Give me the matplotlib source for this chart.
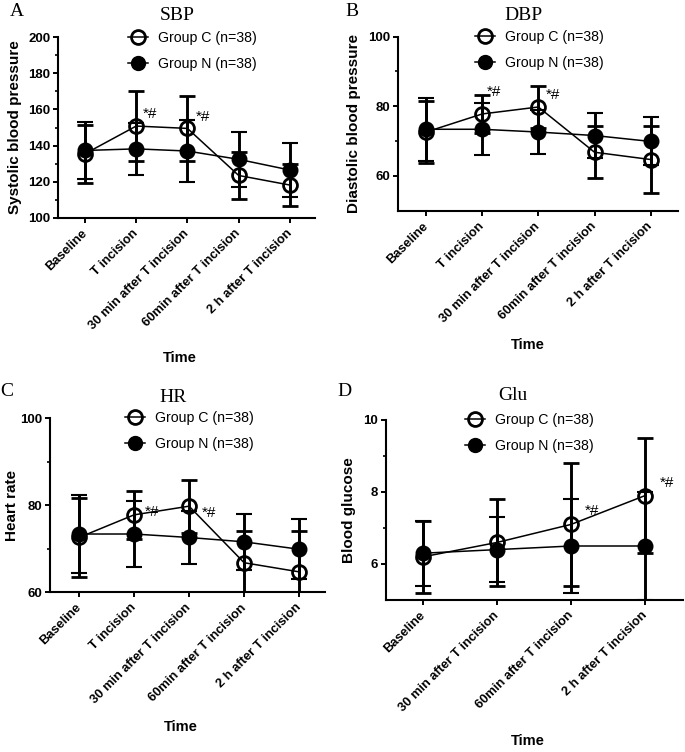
import numpy as np
import matplotlib
matplotlib.use("Agg")
import matplotlib.pyplot as plt
from matplotlib.lines import Line2D

# ---------------- data ----------------
cats5 = ["Baseline", "T incision", "30 min after T incision",
         "60min after T incision", "2 h after T incision"]
cats4 = ["Baseline", "30 min after T incision",
         "60min after T incision", "2 h after T incision"]

sbp_c_mean = [135.5, 150.8, 149.5, 123.5, 118.2]
sbp_c_sd = [16.0, 19.5, 18.0, 13.2, 11.6]
sbp_n_mean = [137.3, 138.2, 137.0, 132.4, 126.5]
sbp_n_sd = [16.0, 14.5, 17.0, 15.3, 14.8]

dbp_c_mean = [72.6, 77.8, 79.8, 66.8, 64.7]
dbp_c_sd = [9.0, 5.5, 6.1, 7.4, 9.5]
dbp_n_mean = [73.4, 73.4, 72.6, 71.6, 69.9]
dbp_n_sd = [9.0, 7.5, 6.2, 6.4, 6.9]

hr_c_mean = [72.6, 77.8, 79.8, 66.8, 64.7]
hr_c_sd = [9.0, 5.5, 6.1, 7.4, 9.5]
hr_n_mean = [73.4, 73.4, 72.6, 71.6, 69.9]
hr_n_sd = [9.0, 7.5, 6.2, 6.4, 6.9]

glu_c_mean = [6.2, 6.6, 7.1, 7.9]
glu_c_sd = [1.0, 1.2, 1.7, 1.6]
glu_n_mean = [6.3, 6.4, 6.5, 6.5]
glu_n_sd = [0.9, 0.9, 1.3, 1.5]

label_c = "Group C (n=38)"
label_n = "Group N (n=38)"
sig_text = "*#"

# ---------------- figure ----------------
W, H = 685, 752
fig = plt.figure(figsize=(W / 100, H / 100), dpi=100)
SANS = "Liberation Sans"
SERIF = "Liberation Serif"
PT = 0.72  # points per pixel at 100 dpi


def add_ax(l, r, t, b):
    return fig.add_axes([l / W, 1 - b / H, (r - l) / W, (b - t) / H])


def fx(px):
    return px / W


def fy(py):
    return 1 - py / H


def panel(ax, cats, c_mean, c_sd, n_mean, n_sd, ylim, major, minor, xlim,
          ylabel, ylab_x, xlab_xy, leg_xy, sig_idx, sig_off):
    x = np.arange(len(cats))
    common = dict(color="black", ms=10, lw=1.1, elinewidth=2.1,
                  capsize=5.5, capthick=2.1, clip_on=True)
    ax.errorbar(x, n_mean, yerr=n_sd, fmt="-o", mfc="black", mec="black",
                mew=1.5, zorder=3, **common)
    ax.errorbar(x, c_mean, yerr=c_sd, fmt="-o", mfc="none", mec="black",
                mew=2.0, zorder=4, **common)
    ax.set_ylim(*ylim)
    ax.set_xlim(*xlim)
    ax.set_yticks(major)
    ax.set_yticks(minor, minor=True)
    ax.set_xticks(x)
    ax.set_xticklabels(cats, rotation=45, ha="right", va="center",
                       rotation_mode="anchor", fontsize=9.3, fontweight="bold",
                       family=SANS)
    for lab in ax.get_yticklabels():
        lab.set_fontsize(9.5)
        lab.set_fontweight("bold")
        lab.set_family(SANS)
    for s in ["top", "right"]:
        ax.spines[s].set_visible(False)
    for s in ["left", "bottom"]:
        ax.spines[s].set_linewidth(1.5)
    ax.tick_params(axis="y", which="major", length=3.5, width=1.4, pad=2)
    ax.tick_params(axis="y", which="minor", length=2.2, width=1.2)
    ax.tick_params(axis="x", which="major", length=3.8, width=1.4, pad=6)
    ax.set_ylabel(ylabel, fontsize=11, fontweight="bold", family=SANS,
                  va="center")
    ax.yaxis.set_label_coords(ylab_x, 0.5)
    ax.set_xlabel("Time", fontsize=10.5, fontweight="bold", family=SANS,
                  va="center")
    ax.xaxis.set_label_coords(*xlab_xy)
    # legend
    h_c = Line2D([], [], color="black", lw=1.1, marker="o", ms=10,
                 mfc="none", mec="black", mew=2.0)
    h_n = Line2D([], [], color="black", lw=1.1, marker="o", ms=10,
                 mfc="black", mec="black")
    fig.legend([h_c, h_n], [label_c, label_n], loc="upper left",
               bbox_to_anchor=(fx(leg_xy[0]), fy(leg_xy[1])),
               bbox_transform=fig.transFigure, frameon=False,
               prop={"family": SANS, "size": 10.2}, handlelength=1.4,
               handletextpad=0.75, labelspacing=0.85, borderpad=0,
               borderaxespad=0)
    for i, (dx, dy) in zip(sig_idx, sig_off):
        ax.annotate(sig_text, xy=(i, c_mean[i]), xytext=(dx * PT, dy * PT),
                    textcoords="offset points", ha="left", va="center",
                    fontsize=11, family=SANS)


# Panel A
axA = add_ax(58, 315, 37, 218)
panel(axA, cats5, sbp_c_mean, sbp_c_sd, sbp_n_mean, sbp_n_sd,
      (100, 200), [100, 120, 140, 160, 180, 200], [110, 130, 150, 170, 190],
      (-0.527, 4.49), "Systolic blood pressure", -(58 - 15) / 257,
      (0.475, -(358 - 218) / 181), (128, 31), [1, 2], [(7, 12), (8, 11)])

# Panel B
axB = add_ax(398, 678, 36.7, 210.7)
panel(axB, cats5, dbp_c_mean, dbp_c_sd, dbp_n_mean, dbp_n_sd,
      (50, 100), [60, 80, 100], [70, 90],
      (-0.498, 4.486), "Diastolic blood pressure", -(398 - 354) / 280,
      (0.464, -(345 - 210.7) / 174), (475, 30), [1, 2], [(5, 21.6), (7, 12)])

# Panel C
axC = add_ax(50, 325, 418.3, 592.3)
panel(axC, cats5, hr_c_mean, hr_c_sd, hr_n_mean, hr_n_sd,
      (60, 100), [60, 80, 100], [70, 90],
      (-0.527, 4.47), "Heart rate", -(50 - 12) / 275,
      (0.476, -(726.7 - 592.3) / 174), (125, 411), [1, 2],
      [(11, 3), (12.7, -7)])

# Panel D
axD = add_ax(385.7, 683, 420, 600)
panel(axD, cats4, glu_c_mean, glu_c_sd, glu_n_mean, glu_n_sd,
      (5.0, 10), [6, 8, 10], [7, 9],
      (-0.509, 3.514), "Blood glucose", -(385.7 - 349) / 297.3,
      (0.479, -(741 - 600) / 180), (465, 413), [2, 3], [(14, 13), (15, 13)])

# titles and panel letters
for txt, x, y in [("SBP", 177, 15), ("DBP", 523, 15), ("HR", 173, 397),
                  ("Glu", 513, 395)]:
    fig.text(fx(x), fy(y), txt, ha="center", va="center", fontsize=14,
             family=SERIF)
for txt, x, y in [("A", 17, 11), ("B", 352, 11), ("C", 7, 391),
                  ("D", 344, 391)]:
    fig.text(fx(x), fy(y), txt, ha="center", va="center", fontsize=14,
             family=SERIF)

fig.savefig("out.png", dpi=100)
